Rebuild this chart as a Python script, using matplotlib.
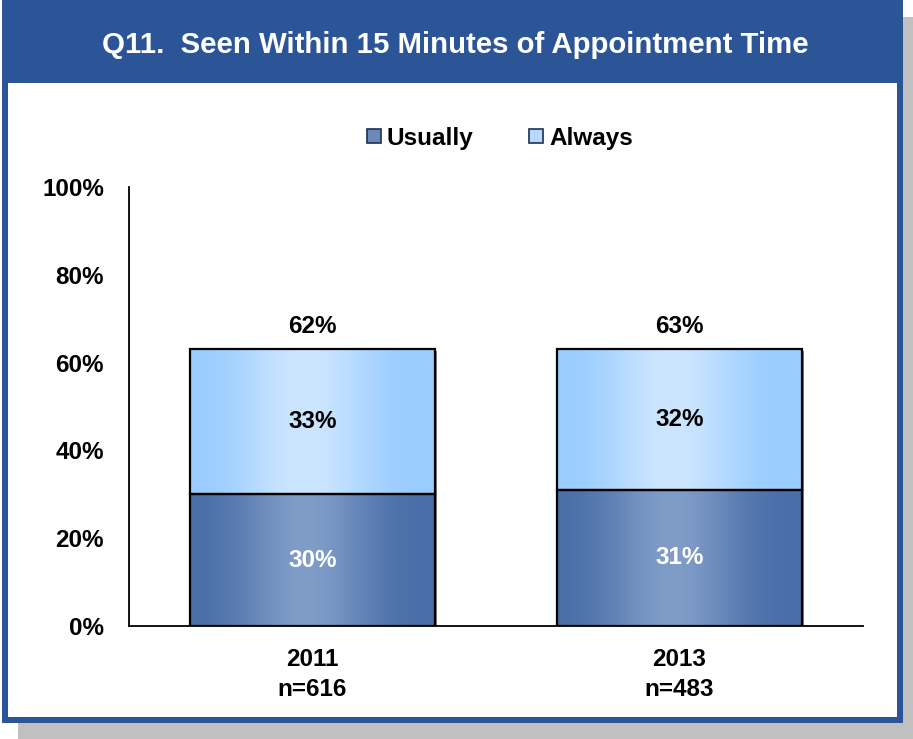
import numpy as np
import matplotlib
matplotlib.use("Agg")
import matplotlib.pyplot as plt
from matplotlib.patches import Rectangle, Patch
from matplotlib.colors import to_rgb
from matplotlib.transforms import offset_copy

plt.rcParams['font.family'] = ['Liberation Sans', 'DejaVu Sans']

# ---- data ----
categories = ["2011\nn=616", "2013\nn=483"]
usually = [30, 31]
always = [33, 32]
totals = [62, 63]
series_names = ["Usually", "Always"]
title = "Q11.  Seen Within 15 Minutes of Appointment Time"
y_ticks = [0, 20, 40, 60, 80, 100]

# ---- styling ----
FRAME_BLUE = "#2B5597"
SHADOW = "#C0C0C0"
USUALLY_EDGE, USUALLY_MID = "#4A6EA8", "#809DC8"
ALWAYS_EDGE, ALWAYS_MID = "#99CCFF", "#CDE6FF"
FS = 17.5

W, H = 913, 739
fig = plt.figure(figsize=(W / 100, H / 100), dpi=100)
fig.patch.set_facecolor("white")


def px_rect(x0, y0, x1, y1, **kw):
    """Rectangle given in pixel coordinates measured from the top-left corner."""
    r = Rectangle((x0 / W, 1 - y1 / H), (x1 - x0) / W, (y1 - y0) / H,
                  transform=fig.transFigure, **kw)
    fig.patches.append(r)
    return r


# drop shadow, blue frame, title bar, white panel
px_rect(18, 17, 913, 739, facecolor=SHADOW, edgecolor="none", zorder=0)
px_rect(2, 0, 903, 723, facecolor=FRAME_BLUE, edgecolor="none", zorder=1)
px_rect(8, 83, 897, 717, facecolor="white", edgecolor="none", zorder=2)
fig.text(455 / W, 1 - 45 / H, title, color="white", fontsize=21.2,
         fontweight="bold", ha="center", va="center", zorder=3)

# ---- axes ----
ax = fig.add_axes([129 / W, 1 - 626 / H, 734 / W, 439 / H])
ax.set_zorder(5)
ax.set_facecolor("none")
x = np.arange(len(categories))
width = 0.67


def gradient(edge, mid, n=256):
    e = np.array(to_rgb(edge))
    m = np.array(to_rgb(mid))
    t = np.linspace(0, 1, n)
    w = np.clip(1 - np.abs(t - 0.47) / 0.53, 0, 1) ** 1.3
    w = 0.5 - 0.5 * np.cos(np.pi * w)
    return (e[None, :] * (1 - w[:, None]) + m[None, :] * w[:, None])[None, :, :]


shadow_tr = offset_copy(ax.transData, fig=fig, x=2, y=-2, units="dots")
layers = [(usually, [0] * len(usually), USUALLY_EDGE, USUALLY_MID),
          (always, usually, ALWAYS_EDGE, ALWAYS_MID)]
for vals, bottoms, edge, mid in layers:
    bars = ax.bar(x, vals, width, bottom=bottoms, facecolor="none",
                  edgecolor="black", linewidth=1.6, zorder=4)
    img = gradient(edge, mid)
    for b in bars:
        x0, y0 = b.get_x(), b.get_y()
        x1, y1 = x0 + b.get_width(), y0 + b.get_height()
        ax.imshow(img, extent=[x0, x1, y0, y1], aspect="auto",
                  interpolation="bilinear", zorder=3)
        ax.add_patch(Rectangle((x0, y0), x1 - x0, y1 - y0, transform=shadow_tr,
                               facecolor="#808080", edgecolor="none", zorder=2))

# value labels
for i in range(len(categories)):
    ax.text(x[i], usually[i] / 2, f"{usually[i]}%", ha="center", va="center",
            color="white", fontsize=FS, fontweight="bold", zorder=5)
    ax.text(x[i], usually[i] + always[i] / 2, f"{always[i]}%", ha="center",
            va="center", color="black", fontsize=FS, fontweight="bold", zorder=5)
    ax.text(x[i], usually[i] + always[i] + 5.2, f"{totals[i]}%", ha="center",
            va="center", color="black", fontsize=FS, fontweight="bold", zorder=5)

ax.set_xlim(-0.5, 1.5)
ax.set_ylim(0, 100)
ax.set_yticks(y_ticks)
ax.set_yticklabels([f"{v}%" for v in y_ticks], fontsize=FS, fontweight="bold")
ax.set_xticks(x)
ax.set_xticklabels(categories, fontsize=FS, fontweight="bold", linespacing=1.35)
ax.tick_params(axis="y", length=0, pad=18)
ax.tick_params(axis="x", length=0, pad=16)
for s in ("top", "right"):
    ax.spines[s].set_visible(False)
for s in ("left", "bottom"):
    ax.spines[s].set_linewidth(1.3)
    ax.spines[s].set_zorder(6)

# legend
handles = [Patch(facecolor="#6A89BC", edgecolor="#1F2F4F", linewidth=1.2),
           Patch(facecolor="#B5D9FF", edgecolor="#1F2F4F", linewidth=1.2)]
leg = fig.legend(handles, series_names, loc="center",
                 bbox_to_anchor=(500 / W, 1 - 138 / H),
                 ncol=2, frameon=False, handlelength=0.55, handleheight=0.55,
                 handletextpad=0.25, columnspacing=2.3,
                 prop={"size": FS, "weight": "bold"})
leg.set_zorder(6)

fig.savefig("out.png", dpi=100, facecolor=fig.get_facecolor())
